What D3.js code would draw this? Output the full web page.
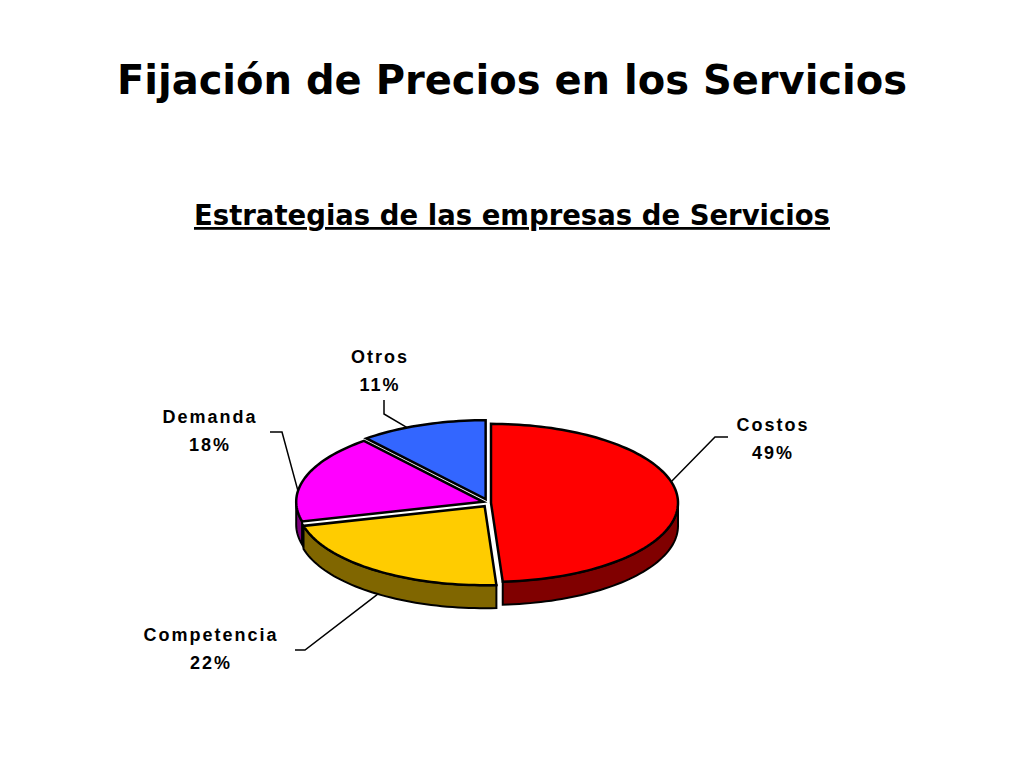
<!DOCTYPE html>
<html><head><meta charset="utf-8">
<script src="https://cdn.jsdelivr.net/npm/d3@7"></script>
<style>body{margin:0;background:#fff}</style>
</head><body>
<script>
// data
const categories = ["Costos", "Competencia", "Demanda", "Otros"];
const values = [49, 22, 18, 11];
const topColors = ["#FF0000", "#FFCC00", "#FF00FF", "#3366FF"];
const wallColors = ["#800000", "#806600", "#800080", "#1A3380"];

const width = 1024, height = 768;
const svg = d3.select("body").append("svg").attr("width", width).attr("height", height);

svg.append("text").attr("x", 512).attr("y", 94).attr("text-anchor", "middle")
  .style("font-family", "DejaVu Sans").style("font-weight", "bold").style("font-size", "40px")
  .text("Fijación de Precios en los Servicios");
svg.append("text").attr("x", 512).attr("y", 225).attr("text-anchor", "middle")
  .style("font-family", "DejaVu Sans").style("font-weight", "bold").style("font-size", "27.5px")
  .style("text-decoration", "underline")
  .text("Estrategias de las empresas de Servicios");

const cx = 487, cy = 503, rx = 187, ry = 79, depth = 23, explode = 4;
const data = categories.map((c, i) => ({ name: c, value: values[i], i }));
const pie = d3.pie().sort(null).value(d => d.value);
const slices = pie(data);

// point on ellipse, angle clockwise from 12 o'clock
const pt = (a, ox, oy, dy = 0) => [ox + rx * Math.sin(a), oy - ry * Math.cos(a) + dy];
function arcPts(a0, a1, ox, oy, dy) {
  const n = Math.max(2, Math.ceil((a1 - a0) / 0.03));
  return d3.range(n + 1).map(k => pt(a0 + (a1 - a0) * k / n, ox, oy, dy));
}

slices.forEach(s => {
  const mid = (s.startAngle + s.endAngle) / 2;
  s.ox = cx + explode * Math.sin(mid);
  s.oy = cy - explode * Math.cos(mid);
});

const line = d3.line();
const g = svg.append("g");

// walls (front half only)
slices.forEach(s => {
  const a0 = Math.max(s.startAngle, Math.PI / 2), a1 = Math.min(s.endAngle, 3 * Math.PI / 2);
  if (a1 <= a0) return;
  const top = arcPts(a0, a1, s.ox, s.oy, 0);
  const bot = arcPts(a0, a1, s.ox, s.oy, depth).reverse();
  g.append("path").attr("d", line(top.concat(bot)) + "Z")
    .attr("fill", wallColors[s.data.i]).attr("stroke", "#000").attr("stroke-width", 2);
});

// tops
slices.forEach(s => {
  const pts = [[s.ox, s.oy]].concat(arcPts(s.startAngle, s.endAngle, s.ox, s.oy, 0));
  g.append("path").attr("d", line(pts) + "Z")
    .attr("fill", topColors[s.data.i]).attr("stroke", "#000").attr("stroke-width", 2.5);
});

// labels with leader lines
const labelPos = [
  { x: 773, y: 431, elbow: [[715, 437], [728, 437]], anchorAngle: 1.3 },
  { x: 211, y: 641, elbow: [[305, 650], [295, 650]], anchorAngle: 3.75, dy: depth },
  { x: 210, y: 423, elbow: [[282, 432], [270, 432]], anchorAngle: 4.85 },
  { x: 380, y: 363, elbow: [[384, 414], [384, 400]], anchorAngle: 5.85 }
];
slices.forEach((s, i) => {
  const L = labelPos[i];
  const p = pt(L.anchorAngle, s.ox, s.oy, L.dy || 0);
  svg.append("path").attr("d", line([p].concat(L.elbow)))
    .attr("fill", "none").attr("stroke", "#000").attr("stroke-width", 1.5);
  const t = svg.append("text").attr("text-anchor", "middle")
    .style("font-family", "Liberation Sans, Arial").style("font-weight", "bold")
    .style("font-size", "18px").style("letter-spacing", "2px");
  t.append("tspan").attr("x", L.x).attr("y", L.y).text(s.data.name);
  t.append("tspan").attr("x", L.x).attr("y", L.y + 28).text(s.data.value + "%");
});
</script>
</body></html>
